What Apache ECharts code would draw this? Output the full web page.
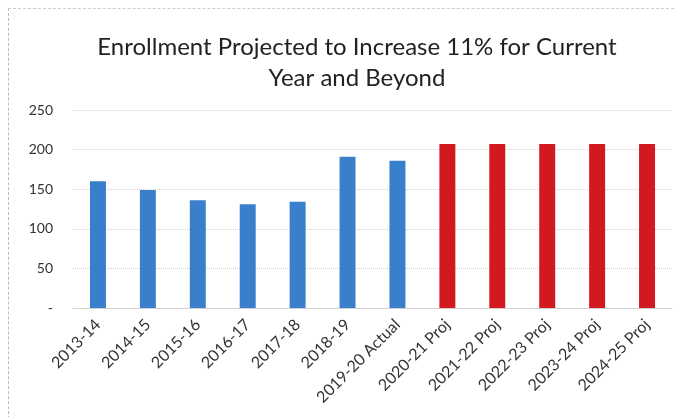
<!DOCTYPE html>
<html><head><meta charset="utf-8">
<script src="https://cdn.jsdelivr.net/npm/echarts@6/dist/echarts.min.js"></script>
<style>html,body{margin:0;padding:0;background:#fff;}#c{width:676px;height:417px;}
#frame{position:absolute;left:8px;top:8px;width:700px;height:420px;border-left:1px dashed #bbb;border-top:1px dashed #ccc;pointer-events:none;}</style>
</head><body><div id="c"></div><div id="frame"></div>
<script>
const categories = ['2013-14','2014-15','2015-16','2016-17','2017-18','2018-19','2019-20 Actual','2020-21 Proj','2021-22 Proj','2022-23 Proj','2023-24 Proj','2024-25 Proj'];
const enrollment = [160,149,136,131,134,191,186,207,207,207,207,207];
const isProjection = [false,false,false,false,false,false,false,true,true,true,true,true];
const yTicks = [0,50,100,150,200,250];
const titleText = 'Enrollment Projected to Increase 11% for Current\nYear and Beyond';

const chart = echarts.init(document.getElementById('c'));
chart.setOption({
  animation:false,
  title:{text:titleText,left:352,textAlign:'center',top:27,textStyle:{fontFamily:'Lato',fontSize:24,fontWeight:'normal',color:'#222',lineHeight:31}},
  grid:{left:73,right:4,top:110,bottom:109,containLabel:false},
  xAxis:{type:'category',data:categories,
    axisLine:{lineStyle:{color:'#c8c8c8',type:'dotted'}},axisTick:{show:false},
    axisLabel:{rotate:45,fontFamily:'Lato',fontSize:16,color:'#333',margin:14,interval:0}},
  yAxis:{type:'value',min:yTicks[0],max:yTicks[yTicks.length-1],interval:50,
    axisLine:{show:false},axisTick:{show:false},
    splitLine:{lineStyle:{color:'#cfcfcf',type:'dotted'}},
    axisLabel:{fontFamily:'Lato',fontSize:14,color:'#333',margin:20,
      formatter:v=>v===0?'-':String(v)}},
  series:[{type:'bar',barWidth:'32%',
    data:enrollment.map((v,i)=>({value:v,itemStyle:{color:isProjection[i]?'#d2191f':'#3a7fcc'}}))}]
});
</script></body></html>
